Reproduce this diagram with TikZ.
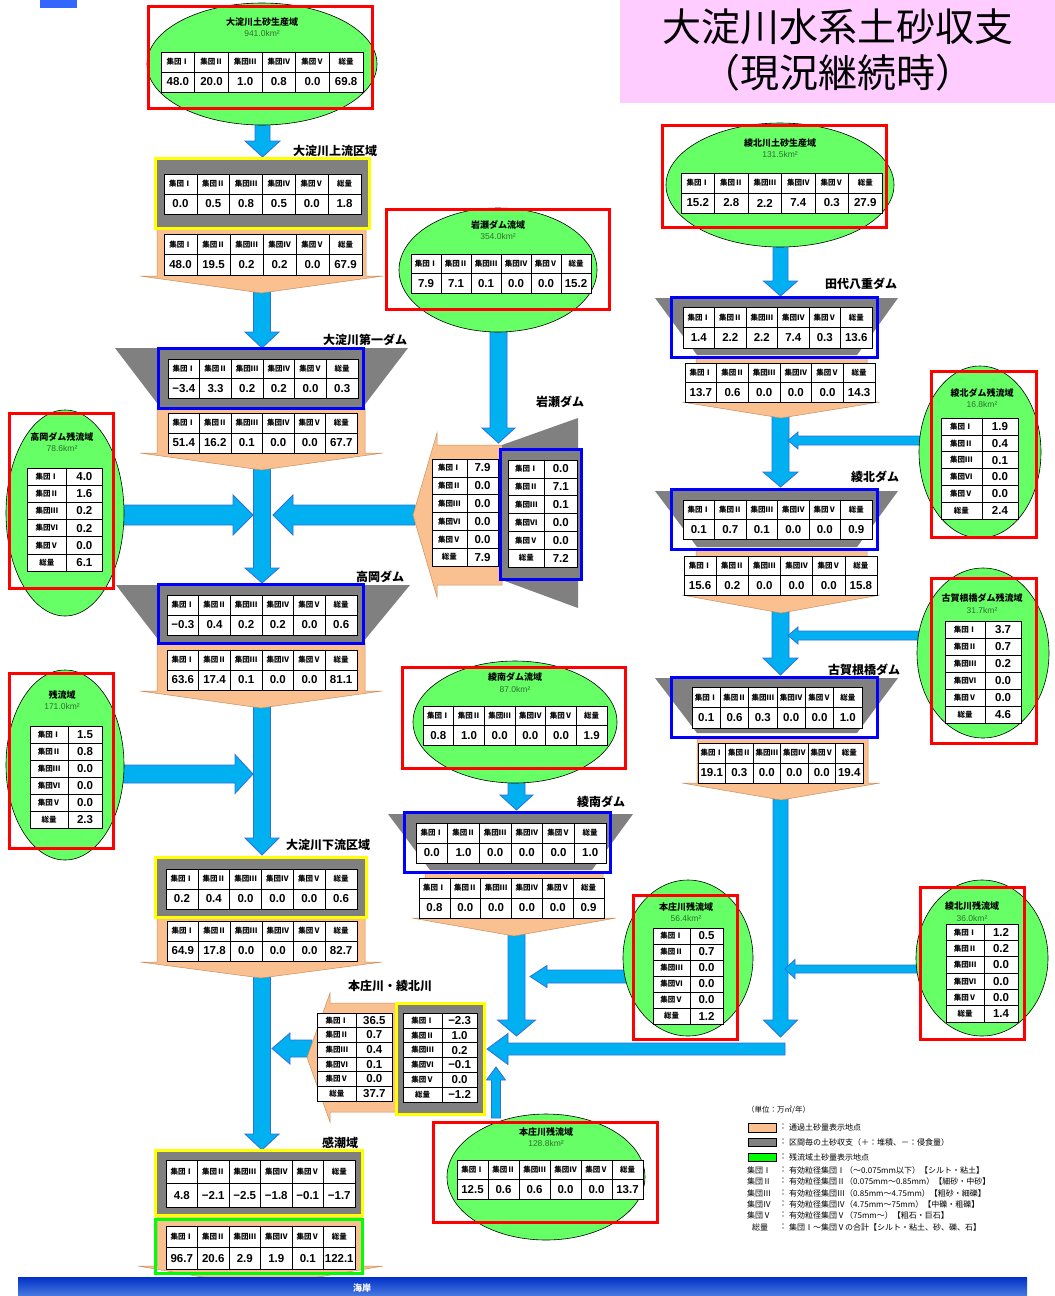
\documentclass[tikz,border=0pt]{standalone}
\usepackage{fontspec}
\setmainfont{Liberation Sans}
\newfontfamily\jp{Noto Sans CJK JP}
\usetikzlibrary{shapes.geometric}
\definecolor{peach}{HTML}{FAC08F}
\definecolor{peachline}{HTML}{C89060}
\definecolor{damgray}{HTML}{808080}
\definecolor{ellgreen}{HTML}{66FF66}
\definecolor{arrblue}{HTML}{00B0F0}
\definecolor{arrline}{HTML}{2F6FE0}
\definecolor{frred}{HTML}{FF0000}
\definecolor{frblue}{HTML}{0000FF}
\definecolor{fryellow}{HTML}{FFFF00}
\definecolor{frgreen}{HTML}{00FF00}
\definecolor{areatxt}{HTML}{2F6F2F}
\definecolor{titlebg}{HTML}{FFCCFF}
\definecolor{seatop}{HTML}{0030C8}
\definecolor{seabot}{HTML}{4A7BE0}
\definecolor{fragblue}{HTML}{3366FF}
\tikzset{
 barrow/.style={fill=arrblue, draw=arrline, line width=0.8pt, line join=miter},
 peachshape/.style={fill=peach, draw=peachline, line width=0.5pt},
 dam/.style={fill=damgray},
 ell/.style={ellipse, draw=black, line width=0.6pt, fill=ellgreen, inner sep=0pt},
 redframe/.style={draw=frred, line width=3pt},
 blueframe/.style={draw=frblue, line width=3pt},
 yelframe/.style={draw=fryellow, line width=3pt, fill=damgray},
 greenframe/.style={draw=frgreen, line width=3pt},
 hd/.style={font=\jp\bfseries\fontsize{7.5}{8}\selectfont, inner sep=0pt},
 val/.style={font=\bfseries\fontsize{11.5}{12}\selectfont, inner sep=0pt},
 tabline/.style={draw=black, line width=0.6pt},
 lbl/.style={font=\jp\bfseries\fontsize{12}{13}\selectfont, inner sep=0pt},
 etitle/.style={font=\jp\bfseries\fontsize{9}{10}\selectfont, inner sep=0pt},
 earea/.style={font=\fontsize{8.5}{9}\selectfont, text=areatxt, inner sep=0pt},
 leg/.style={font=\jp\fontsize{8}{9}\selectfont, inner sep=0pt, anchor=west},
 swatch/.style={draw=black, line width=0.5pt},
}
% horizontal 2x6 table: name, x1, y1, x2, y2, values
\newcommand{\mkhtab}[6]{%
  \pgfmathsetmacro{\tabw}{(#4-#2)/6}%
  \pgfmathsetmacro{\tabm}{(#3+#5)/2}%
  \fill[white] (#2,#3) rectangle (#4,#5);%
  \foreach \hh [count=\ii from 0] in {集団Ⅰ,集団Ⅱ,集団Ⅲ,集団Ⅳ,集団Ⅴ,総量}{%
    \node[hd] (#1-h\ii) at ({#2+(\ii+0.5)*\tabw},{(#3+\tabm)/2}) {\hh};}%
  \foreach \vv [count=\ii from 0] in {#6}{%
    \node[val] (#1-v\ii) at ({#2+(\ii+0.5)*\tabw},{(\tabm+#5)/2}) {\vv};}%
  \foreach \ii in {1,...,5}{\draw[tabline] ({#2+\ii*\tabw},#3) -- ({#2+\ii*\tabw},#5);}%
  \draw[tabline] (#2,\tabm) -- (#4,\tabm);%
  \draw[tabline] (#2,#3) rectangle (#4,#5);%
}
% vertical 6x2 table: name, x1, y1, x2, y2, values
\newcommand{\mkvtab}[6]{%
  \pgfmathsetmacro{\tabh}{(#5-#3)/6}%
  \pgfmathsetmacro{\tabm}{#2+0.53*(#4-#2)}%
  \fill[white] (#2,#3) rectangle (#4,#5);%
  \foreach \hh [count=\ii from 0] in {集団Ⅰ,集団Ⅱ,集団Ⅲ,集団Ⅵ,集団Ⅴ,総量}{%
    \node[hd] (#1-h\ii) at ({(#2+\tabm)/2},{#3+(\ii+0.5)*\tabh}) {\hh};}%
  \foreach \vv [count=\ii from 0] in {#6}{%
    \node[val] (#1-v\ii) at ({(\tabm+#4)/2},{#3+(\ii+0.5)*\tabh}) {\vv};}%
  \foreach \ii in {1,...,5}{\draw[tabline] (#2,{#3+\ii*\tabh}) -- (#4,{#3+\ii*\tabh});}%
  \draw[tabline] (\tabm,#3) -- (\tabm,#5);%
  \draw[tabline] (#2,#3) rectangle (#4,#5);%
}
% vertical block arrow: xc, ystart, yheadstart, ytip, shaft half, head half
\newcommand{\varrow}[6]{%
  \draw[barrow] ({#1-#5},#2) -- ({#1-#5},#3) -- ({#1-#6},#3) -- (#1,#4) -- ({#1+#6},#3) -- ({#1+#5},#3) -- ({#1+#5},#2) -- cycle;}
% horizontal block arrow: yc, xstart, xheadstart, xtip, shaft half, head half
\newcommand{\harrow}[6]{%
  \draw[barrow] (#2,{#1-#5}) -- (#3,{#1-#5}) -- (#3,{#1-#6}) -- (#4,#1) -- (#3,{#1+#6}) -- (#3,{#1+#5}) -- (#2,{#1+#5}) -- cycle;}
% peach arrow down: xl, xr, ytop, yflare, xflareL, xflareR, ytip
\newcommand{\pdown}[7]{%
  \draw[peachshape] (#1,#3) -- (#2,#3) -- (#2,#4) -- (#6,#4) -- ({(#5+#6)/2},#7) -- (#5,#4) -- (#1,#4) -- cycle;}
% peach arrow left: ytop, ybot, xright, xflare, yflareT, yflareB, xtip
\newcommand{\pleft}[7]{%
  \draw[peachshape] (#3,#1) -- (#4,#1) -- (#4,#5) -- (#7,{(#5+#6)/2}) -- (#4,#6) -- (#4,#2) -- (#3,#2) -- cycle;}

\begin{document}
\begin{tikzpicture}[x=1pt,y=-1pt]
\useasboundingbox (0,0) rectangle (1055,1296);
\fill[white] (0,0) rectangle (1055,1296);
\fill[fragblue] (40,0) rectangle (77,8);

% title
\fill[titlebg] (620,0) rectangle (1055,103);
\node[font=\jp\fontsize{39}{42}\selectfont, inner sep=0pt] (title1) at (838,27) {大淀川水系土砂収支};
\node[font=\jp\fontsize{39}{42}\selectfont, inner sep=0pt] (title2) at (838,73) {（現況継続時）};

% ---------- blue arrows ----------
\varrow{262.5}{120}{141}{157}{7.5}{17.5}
\varrow{262}{290}{332}{348}{8.5}{17}
\varrow{262}{468}{568}{583}{8.5}{17}
\harrow{515}{110}{233}{253}{10}{20}
\harrow{515}{415}{293}{273}{10}{20}
\varrow{262}{706}{838}{855}{8.5}{17}
\harrow{774}{110}{235}{253}{9}{19.5}
\varrow{262}{976}{1134}{1150}{8.5}{17}
\harrow{1048.5}{312}{290}{272}{8.5}{15.5}
\varrow{498.5}{330}{428}{443}{8.5}{16.5}
\varrow{516.5}{781}{795}{810}{8.5}{16.5}
\varrow{516.5}{934}{1020}{1036}{8.5}{19}
\harrow{976.5}{630}{547}{530}{6.5}{11}
\varrow{780.5}{245}{281}{296}{7.5}{17}
\varrow{780.5}{416}{472}{487}{8.5}{17.5}
\harrow{440.5}{920}{798}{788}{4.5}{8.5}
\varrow{780.5}{611}{658}{675}{8.5}{17.5}
\harrow{635.5}{920}{798}{788}{4.5}{8.5}
\varrow{780.5}{798}{1020}{1037}{7.5}{17}
\harrow{969}{918}{795}{785}{4}{9.5}
\harrow{1049}{785}{508}{487}{6}{15.5}
\varrow{496}{1118}{1080}{1067}{4.5}{9.5}

% ---------- peach arrows ----------
\pdown{157}{366}{228}{276}{140}{383}{293}
\pdown{157}{365}{408}{453}{140}{383}{470}
\pdown{157}{365}{643}{691}{140}{382}{708}
\pdown{157}{365}{917}{962}{140}{382}{978}
\pdown{157}{362}{1215}{1266}{138}{383}{1287}
\pdown{425}{603}{872}{918}{412}{616}{936}
\pdown{696}{867}{357}{402}{682}{880}{418}
\pdown{696}{867}{549}{595}{682}{880}{613}
\pdown{697}{868}{737}{783}{682}{880}{800}
\pleft{445}{585}{502}{437}{433}{597}{413}
\pleft{1003}{1112}{396}{330}{993}{1122}{307}

% ---------- dams ----------
\fill[dam] (115,348) -- (408,348) -- (363,407) -- (160,407) -- cycle;
\fill[dam] (116,585) -- (410,585) -- (363,642) -- (160,642) -- cycle;
\fill[dam] (502,445) -- (578,418) -- (578,608) -- (502,580) -- cycle;
\fill[dam] (388,814) -- (633,814) -- (592,870) -- (430,870) -- cycle;
\fill[dam] (655,298) -- (898,298) -- (857,355) -- (697,355) -- cycle;
\fill[dam] (655,491) -- (898,491) -- (857,547) -- (697,547) -- cycle;
\fill[dam] (655,678) -- (898,678) -- (857,733) -- (697,733) -- cycle;

% ---------- frames ----------
\draw[yelframe] (155,158) rectangle (369,228);
\draw[blueframe, fill=damgray] (158,348) rectangle (363,408);
\draw[blueframe, fill=damgray] (158,584) rectangle (363,643);
\draw[blueframe, fill=damgray] (500,449) rectangle (581,579);
\draw[yelframe] (155,857) rectangle (366,917);
\draw[yelframe] (155,1150) rectangle (362,1215);
\draw[greenframe] (155,1219) rectangle (362,1273);
\draw[yelframe] (396,1003) rectangle (484,1114);
\draw[blueframe] (404,812) rectangle (610,872);
\draw[blueframe] (671,297) rectangle (877,357);
\draw[blueframe] (671,489) rectangle (877,549);
\draw[blueframe] (671,677) rectangle (877,737);

% ---------- ellipses ----------
\node[ell, minimum width=230pt, minimum height=122pt] (eA) at (262,64) {};
\node[ell, minimum width=198pt, minimum height=124pt] (eIw) at (498,270) {};
\node[ell, minimum width=204pt, minimum height=122pt] (eAn) at (515,722) {};
\node[ell, minimum width=228pt, minimum height=124pt] (eAk) at (780,185) {};
\node[ell, minimum width=118pt, minimum height=206pt] (eTk) at (65,513) {};
\node[ell, minimum width=118pt, minimum height=190pt] (eZan) at (65,765) {};
\node[ell, minimum width=122pt, minimum height=172pt] (eAkD) at (980,452) {};
\node[ell, minimum width=132pt, minimum height=170pt] (eKg) at (983,653) {};
\node[ell, minimum width=130pt, minimum height=156pt] (eHj) at (688,958) {};
\node[ell, minimum width=132pt, minimum height=156pt] (eAkr) at (982,958) {};
\node[ell, minimum width=198pt, minimum height=126pt] (eHj2) at (546,1177) {};

% ---------- red frames ----------
\draw[redframe] (148,6) rectangle (372,108);
\draw[redframe] (386,209) rectangle (609,309);
\draw[redframe] (402,667) rectangle (625,768);
\draw[redframe] (662,125) rectangle (886,227);
\draw[redframe] (9,413) rectangle (113,588);
\draw[redframe] (9,673) rectangle (113,848);
\draw[redframe] (931,371) rectangle (1036,537);
\draw[redframe] (931,578) rectangle (1036,743);
\draw[redframe] (633,895) rectangle (737,1039);
\draw[redframe] (920,887) rectangle (1024,1039);
\draw[redframe] (433,1122) rectangle (657,1222);

% ---------- tables ----------
\mkhtab{tA}{161}{52}{363}{92}{48.0,20.0,1.0,0.8,0.0,69.8}
\mkhtab{tU}{164}{174}{361}{214}{0.0,0.5,0.8,0.5,0.0,1.8}
\mkhtab{tUb}{164}{234}{362}{275}{48.0,19.5,0.2,0.2,0.0,67.9}
\mkhtab{tDa}{168}{359}{358}{398}{−3.4,3.3,0.2,0.2,0.0,0.3}
\mkhtab{tDab}{168}{413}{357}{453}{51.4,16.2,0.1,0.0,0.0,67.7}
\mkhtab{tDb}{167}{595}{357}{635}{−0.3,0.4,0.2,0.2,0.0,0.6}
\mkhtab{tDbb}{167}{650}{357}{690}{63.6,17.4,0.1,0.0,0.0,81.1}
\mkhtab{tL}{166}{869}{357}{909}{0.2,0.4,0.0,0.0,0.0,0.6}
\mkhtab{tLb}{167}{921}{357}{961}{64.9,17.8,0.0,0.0,0.0,82.7}
\mkhtab{tK}{166}{1160}{355}{1207}{4.8,−2.1,−2.5,−1.8,−0.1,−1.7}
\mkhtab{tKb}{166}{1226}{355}{1269}{96.7,20.6,2.9,1.9,0.1,122.1}
\mkhtab{tIw}{411}{254}{591}{293}{7.9,7.1,0.1,0.0,0.0,15.2}
\mkvtab{tIwD}{508}{460}{577}{567}{0.0,7.1,0.1,0.0,0.0,7.2}
\mkvtab{tIwP}{432}{459}{498}{566}{7.9,0.0,0.0,0.0,0.0,7.9}
\mkhtab{tAn}{423}{706}{607}{745}{0.8,1.0,0.0,0.0,0.0,1.9}
\mkhtab{tAnD}{416}{823}{606}{863}{0.0,1.0,0.0,0.0,0.0,1.0}
\mkhtab{tAnP}{419}{878}{604}{918}{0.8,0.0,0.0,0.0,0.0,0.9}
\mkhtab{tAk}{681}{173}{882}{213}{15.2,2.8,2.2,7.4,0.3,27.9}
\mkhtab{tTs}{683}{307}{872}{348}{1.4,2.2,2.2,7.4,0.3,13.6}
\mkhtab{tTsP}{685}{363}{875}{402}{13.7,0.6,0.0,0.0,0.0,14.3}
\mkhtab{tAkD}{683}{500}{872}{539}{0.1,0.7,0.1,0.0,0.0,0.9}
\mkhtab{tAkP}{684}{556}{877}{595}{15.6,0.2,0.0,0.0,0.0,15.8}
\mkhtab{tKg}{692}{687}{862}{728}{0.1,0.6,0.3,0.0,0.0,1.0}
\mkhtab{tKgP}{698}{743}{863}{783}{19.1,0.3,0.0,0.0,0.0,19.4}
\mkvtab{tTk}{27}{468}{102}{571}{4.0,1.6,0.2,0.2,0.0,6.1}
\mkvtab{tZan}{30}{726}{102}{828}{1.5,0.8,0.0,0.0,0.0,2.3}
\mkvtab{tAkDz}{941}{418}{1018}{519}{1.9,0.4,0.1,0.0,0.0,2.4}
\mkvtab{tKgz}{945}{621}{1021}{723}{3.7,0.7,0.2,0.0,0.0,4.6}
\mkvtab{tHjz}{653}{928}{723}{1024}{0.5,0.7,0.0,0.0,0.0,1.2}
\mkvtab{tAkrz}{946}{924}{1018}{1022}{1.2,0.2,0.0,0.0,0.0,1.4}
\mkhtab{tHjb}{457}{1160}{643}{1199}{12.5,0.6,0.6,0.0,0.0,13.7}
\mkvtab{tHjP}{317}{1013}{392}{1101}{36.5,0.7,0.4,0.1,0.0,37.7}
\mkvtab{tHjD}{403}{1013}{477}{1102}{−2.3,1.0,0.2,−0.1,0.0,−1.2}

% ---------- ellipse titles ----------
\node[etitle] (nA) at (262,22) {大淀川土砂生産域};
\node[earea] (aA) at (262,33) {941.0km²};
\node[etitle] (nIw) at (498,225) {岩瀬ダム流域};
\node[earea] (aIw) at (498,236) {354.0km²};
\node[etitle] (nAn) at (515,677) {綾南ダム流域};
\node[earea] (aAn) at (515,689) {87.0km²};
\node[etitle] (nAk) at (780,143) {綾北川土砂生産域};
\node[earea] (aAk) at (780,154) {131.5km²};
\node[etitle] (nTk) at (62,437) {高岡ダム残流域};
\node[earea] (aTk) at (62,448) {78.6km²};
\node[etitle] (nZan) at (62,695) {残流域};
\node[earea] (aZan) at (62,706) {171.0km²};
\node[etitle] (nAkD) at (982,393) {綾北ダム残流域};
\node[earea] (aAkD) at (982,404) {16.8km²};
\node[etitle] (nKg) at (982,598) {古賀根橋ダム残流域};
\node[earea] (aKg) at (982,610) {31.7km²};
\node[etitle] (nHj) at (686,907) {本庄川残流域};
\node[earea] (aHj) at (686,918) {56.4km²};
\node[etitle] (nAkr) at (972,906) {綾北川残流域};
\node[earea] (aAkr) at (972,918) {36.0km²};
\node[etitle] (nHjb) at (546,1132) {本庄川残流域};
\node[earea] (aHjb) at (546,1143) {128.8km²};

% ---------- labels ----------
\node[lbl] (lU) at (335,151) {大淀川上流区域};
\node[lbl] (lD1) at (365,340) {大淀川第一ダム};
\node[lbl] (lD2) at (380,577) {高岡ダム};
\node[lbl] (lL) at (328,845) {大淀川下流区域};
\node[lbl] (lHA) at (390,986) {本庄川・綾北川};
\node[lbl] (lK) at (340,1143) {感潮域};
\node[lbl] (lIw) at (560,402) {岩瀬ダム};
\node[lbl] (lAn) at (601,802) {綾南ダム};
\node[lbl] (lTs) at (861,284) {田代八重ダム};
\node[lbl] (lAk) at (875,477) {綾北ダム};
\node[lbl] (lKg) at (864,670) {古賀根橋ダム};

% ---------- sea ----------
\shade[top color=seatop, bottom color=seabot] (18,1277) rectangle (1027,1296);
\node[font=\jp\bfseries\fontsize{9}{10}\selectfont, text=white, inner sep=0pt] (sea) at (362,1288) {海岸};

% ---------- legend ----------
\node[leg, font=\jp\fontsize{7.5}{9}\selectfont] (unit) at (747,1110) {（単位：万㎥/年）};
\draw[swatch, fill=peach] (748,1123) rectangle (776,1132);
\draw[swatch, fill=damgray] (748,1138) rectangle (776,1146);
\draw[swatch, fill=frgreen] (748,1153) rectangle (776,1161);
\node[leg] (c1) at (779,1127) {：};
\node[leg] (t1) at (789,1127) {通過土砂量表示地点};
\node[leg] (c2) at (779,1142) {：};
\node[leg] (t2) at (789,1142) {区間毎の土砂収支（＋：堆積、－：侵食量）};
\node[leg] (c3) at (779,1157) {：};
\node[leg] (t3) at (789,1157) {残流域土砂量表示地点};
\node[leg] (g1) at (747,1170) {集団Ⅰ};
\node[leg] (g2) at (747,1181) {集団Ⅱ};
\node[leg] (g3) at (747,1193) {集団Ⅲ};
\node[leg] (g4) at (747,1204) {集団Ⅳ};
\node[leg] (g5) at (747,1215) {集団Ⅴ};
\node[leg] (g6) at (752,1227) {総量};
\foreach \yy/\nm in {1170/k1,1181/k2,1193/k3,1204/k4,1215/k5,1227/k6}{\node[leg] (\nm) at (779,\yy) {：};}
\node[leg] (d1) at (789,1170) {有効粒径集団Ⅰ（～0.075mm以下）【シルト・粘土】};
\node[leg] (d2) at (789,1181) {有効粒径集団Ⅱ（0.075mm～0.85mm）【細砂・中砂】};
\node[leg] (d3) at (789,1193) {有効粒径集団Ⅲ（0.85mm～4.75mm）【粗砂・細礫】};
\node[leg] (d4) at (789,1204) {有効粒径集団Ⅳ（4.75mm～75mm）【中礫・粗礫】};
\node[leg] (d5) at (789,1215) {有効粒径集団Ⅴ（75mm～）【粗石・巨石】};
\node[leg] (d6) at (789,1227) {集団Ⅰ～集団Ⅴの合計【シルト・粘土、砂、礫、石】};
\end{tikzpicture}
\end{document}
